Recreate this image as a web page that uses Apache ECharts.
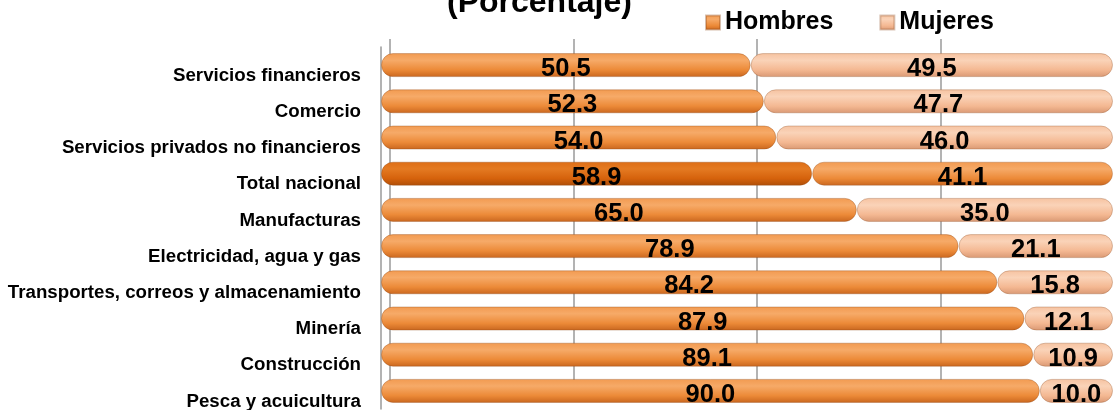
<!DOCTYPE html>
<html lang="es">
<head>
    <meta charset="UTF-8">
    <title>Participación por sexo</title>
    <script src="https://cdn.jsdelivr.net/npm/echarts@6/dist/echarts.min.js"></script>
    <style>
        html, body { margin: 0; padding: 0; background: #fff; }
        #main { width: 1115px; height: 410px; }
    </style>
</head>
<body>
<div id="main"></div>
<script type="text/javascript">
  var sectores = ['Servicios financieros', 'Comercio', 'Servicios privados no financieros', 'Total nacional',
    'Manufacturas', 'Electricidad, agua y gas', 'Transportes, correos y almacenamiento', 'Minería',
    'Construcción', 'Pesca y acuicultura'];
  var hombres = [50.5, 52.3, 54.0, 58.9, 65.0, 78.9, 84.2, 87.9, 89.1, 90.0];
  var mujeres = [49.5, 47.7, 46.0, 41.1, 35.0, 21.1, 15.8, 12.1, 10.9, 10.0];
  var totalIdx = sectores.indexOf('Total nacional');

  var font = 'Arial, "Liberation Sans", sans-serif';

  function grad(c0, c1, c2, c3) {
    return new echarts.graphic.LinearGradient(0, 0, 0, 1, [
      {offset: 0, color: c0},
      {offset: 0.3, color: c1},
      {offset: 0.7, color: c2},
      {offset: 1, color: c3}
    ]);
  }

  var naranja = grad('#F29A50', '#F6AA68', '#EC8A38', '#C9661E');
  var naranjaOsc = grad('#DE6E16', '#E47A22', '#D5620C', '#AE4E08');
  var durazno = grad('#F6C2A0', '#FAD3B8', '#F4B892', '#D99873');

  // el total nacional va resaltado
  function armar(vals, resaltado) {
    return vals.map(function (v, i) {
      if (i === totalIdx) return {value: v, itemStyle: {color: resaltado}};
      return v;
    });
  }

  var lbl = {
    show: true,
    position: 'inside',
    offset: [0, 4],
    color: '#000',
    fontSize: 25.5,
    fontWeight: 'bold',
    fontFamily: font,
    formatter: function (p) { return p.value.toFixed(1); }
  };

  var myChart = echarts.init(document.getElementById('main'));
  var option = {
    animation: false,
    title: {
      text: '(Porcentaje)',
      left: 442,
      top: -18,
      textStyle: {fontSize: 32, fontWeight: 'bold', fontFamily: font, color: '#000'}
    },
    legend: {
      left: 700,
      top: 5,
      itemGap: 46,
      itemWidth: 14,
      itemHeight: 14,
      icon: 'rect',
      textStyle: {fontSize: 25, fontWeight: 'bold', fontFamily: font, color: '#000'},
      data: ['Hombres', 'Mujeres']
    },
    grid: [
      {left: 381, width: 732, top: 47, height: 362, outerBoundsMode: 'none'},
      {left: 390, width: 734, top: 39, height: 360, outerBoundsMode: 'none'}
    ],
    xAxis: [
      {gridIndex: 0, type: 'value', min: 0, max: 100, show: false, splitLine: {show: false}},
      {
        gridIndex: 1, type: 'value', min: 0, max: 100, interval: 25,
        axisLine: {show: false}, axisTick: {show: false}, axisLabel: {show: false},
        splitLine: {show: true, lineStyle: {color: '#9a9a9a', width: 1.5}}
      }
    ],
    yAxis: [
      {
        gridIndex: 0, type: 'category', inverse: true, data: sectores,
        offset: 11,
        axisLine: {show: true, lineStyle: {color: '#9a9a9a', width: 1.5}},
        axisTick: {show: false},
        axisLabel: {
          color: '#000', fontSize: 18.7, fontWeight: 'bold', fontFamily: font,
          margin: 9, lineHeight: 21, interval: 0, hideOverlap: false,
          showMinLabel: true, showMaxLabel: true,
          // primera línea vacía para bajar el texto como en el original
          formatter: function (v) { return ' \n' + v; }
        }
      },
      {
        gridIndex: 1, type: 'category', data: sectores, show: false
      }
    ],
    series: [
      {
        name: 'Hombres',
        type: 'bar',
        stack: 'total',
        barWidth: 24,
        xAxisIndex: 0,
        yAxisIndex: 0,
        itemStyle: {color: naranja, borderRadius: 12, borderColor: 'rgba(140,70,20,0.35)', borderWidth: 1},
        label: lbl,
        data: armar(hombres, naranjaOsc)
      },
      {
        name: 'Mujeres',
        type: 'bar',
        stack: 'total',
        barWidth: 24,
        xAxisIndex: 0,
        yAxisIndex: 0,
        itemStyle: {color: durazno, borderRadius: 12, borderColor: 'rgba(150,90,50,0.35)', borderWidth: 1},
        label: lbl,
        data: armar(mujeres, naranja)
      }
    ]
  };
  myChart.setOption(option);

  window.addEventListener('resize', function () {
    myChart.resize();
  });
</script>
</body>
</html>
